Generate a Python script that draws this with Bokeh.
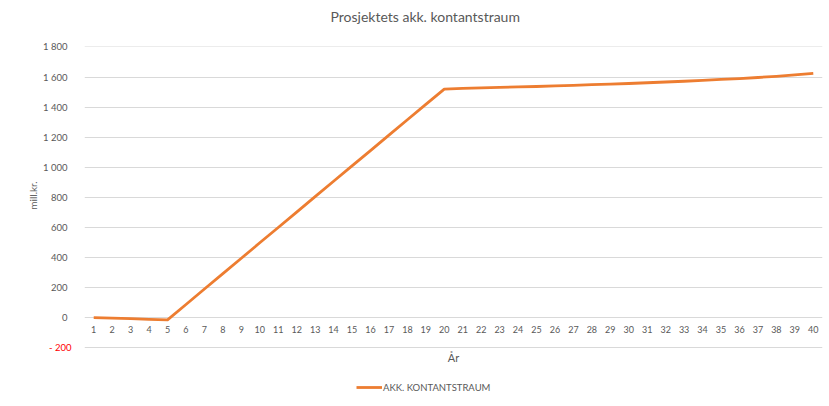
from bokeh.plotting import figure
from bokeh.models import (Range1d, FixedTicker, Legend, LegendItem,
                          ColumnDataSource, LinearAxis)
from bokeh.core.properties import value
from bokeh.embed import file_html
from bokeh.resources import INLINE

# ---- data ----
years = list(range(1, 41))
cashflow = [0, -3, -6, -11, -14, 88, 191, 293, 395, 498,
            600, 702, 805, 907, 1009, 1111, 1214, 1316, 1418, 1520,
            1524, 1528, 1531, 1534, 1537, 1541, 1545, 1549, 1553, 1557,
            1562, 1567, 1572, 1578, 1584, 1590, 1597, 1605, 1614, 1625]
x_tick_labels = [str(y) for y in years]
y_ticks = [-200, 0, 200, 400, 600, 800, 1000, 1200, 1400, 1600, 1800]
y_tick_labels = ["- 200", "0", "200", "400", "600", "800",
                 "1 000", "1 200", "1 400", "1 600", "1 800"]
series_name = "AKK. KONTANTSTRAUM"
title_text = "Prosjektets akk. kontantstraum"
x_title = "År"
y_title = "mill.kr."

FONT = "Lato"
GRAY = "#595959"
ORANGE = "#ED7D31"


def plain_axis(ax):
    ax.axis_line_color = None
    ax.major_tick_line_color = None
    ax.minor_tick_line_color = None
    ax.major_tick_out = 0
    ax.minor_tick_out = 0
    ax.major_label_text_font = FONT
    ax.major_label_text_color = GRAY
    ax.axis_label_text_font = FONT
    ax.axis_label_text_font_style = "normal"
    ax.axis_label_text_color = GRAY


# the frame reaches down to the legend row; the value grid stops at -200
p = figure(width=826, height=404, output_backend="svg", toolbar_location=None,
           x_range=Range1d(0.5, 40.5), y_range=Range1d(-577, 1803),
           x_axis_location=None,
           min_border_left=84, min_border_right=4, min_border_top=45,
           min_border_bottom=0)
p.outline_line_color = None

p.title.text = title_text
p.title.align = "left"
p.title.offset = 246
p.title.text_font = FONT
p.title.text_font_size = "14px"
p.title.text_font_style = "normal"
p.title.text_color = GRAY

# spacer above the frame (pushes the title up)
spacer = LinearAxis(ticker=FixedTicker(ticks=[1]), major_label_overrides={1: " "})
plain_axis(spacer)
spacer.major_label_text_font_size = "1px"
spacer.major_label_standoff = 13
p.add_layout(spacer, "above")

# inner y axis: red label for the negative tick
red_ax = p.yaxis[0]
plain_axis(red_ax)
red_ax.ticker = FixedTicker(ticks=[y_ticks[0]])
red_ax.major_label_overrides = {y_ticks[0]: y_tick_labels[0]}
red_ax.major_label_text_color = "#FF0000"
red_ax.major_label_text_font_size = "9.5px"
red_ax.major_label_standoff = 13

# outer y axis: gray labels, drawn back over the same column
gray_ax = LinearAxis(ticker=FixedTicker(ticks=y_ticks[1:]),
                     major_label_overrides={t: l for t, l in
                                            zip(y_ticks[1:], y_tick_labels[1:])})
plain_axis(gray_ax)
gray_ax.major_label_text_font_size = "9.5px"
gray_ax.major_label_standoff = -21
gray_ax.axis_label = "\u2002" * 12 + y_title
gray_ax.axis_label_text_font_size = "10px"
gray_ax.axis_label_standoff = 1
p.add_layout(gray_ax, "left")

p.xgrid.visible = False
p.ygrid.ticker = FixedTicker(ticks=y_ticks)
p.ygrid.grid_line_color = "#D9D9D9"
p.ygrid.grid_line_width = 1

# category labels on the zero line, axis title under the -200 line
lbl_src = ColumnDataSource(dict(x=years, y=[0] * len(years), t=x_tick_labels))
p.text(x="x", y="y", text="t", source=lbl_src, y_offset=8,
       text_align="center", text_baseline="top", text_font=value(FONT),
       text_font_size="9px", text_color=GRAY)
p.text(x=[(years[0] + years[-1]) / 2], y=[y_ticks[0]], text=[x_title],
       y_offset=3, text_align="center", text_baseline="top",
       text_font=value(FONT), text_font_size="11px", text_color=GRAY)

src = ColumnDataSource(dict(x=years, y=cashflow))
r = p.line(x="x", y="y", source=src, line_color=ORANGE, line_width=2.8,
           line_join="round")

legend = Legend(items=[LegendItem(label=series_name, renderers=[r])],
                orientation="horizontal", location=(272, 11),
                border_line_color=None, background_fill_alpha=0,
                label_text_font=FONT, label_text_font_size="9.5px",
                label_text_color=GRAY, glyph_width=26, glyph_height=12,
                label_height=12, label_standoff=1, padding=2, margin=0)
p.add_layout(legend, "center")

open("out.html", "w").write(file_html(p, INLINE))
